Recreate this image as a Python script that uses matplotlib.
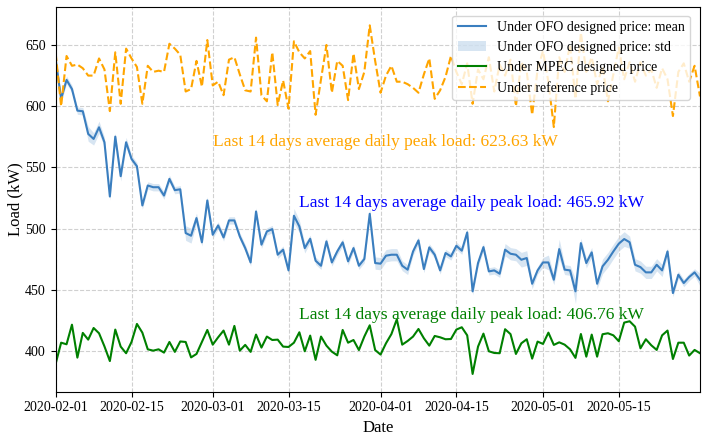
import numpy as np
import pandas as pd
import matplotlib
matplotlib.use("Agg")
import matplotlib.pyplot as plt
import matplotlib.dates as mdates

plt.rcParams['font.family'] = ['Liberation Serif', 'DejaVu Serif']

# daily dates, 2020-02-01 .. 2020-05-30
dates = pd.date_range("2020-02-01", "2020-05-30", freq="D")

# OFO designed price: mean daily peak load (kW)
ofo_mean = [
    637.8, 606.0, 621.5, 614.0, 596.4, 595.9, 577.4, 573.3, 582.8, 570.6,
    526.3, 575.2, 542.9, 570.6, 557.0, 551.0, 519.0, 535.3, 533.9, 533.9,
    527.1, 540.7, 531.5, 532.2, 496.5, 494.3, 508.7, 488.9, 523.1, 495.1,
    502.7, 492.9, 506.8, 506.8, 493.7, 484.2, 472.5, 514.1, 487.0, 497.8,
    499.7, 478.8, 482.9, 466.0, 510.6, 501.9, 484.2, 491.8, 473.9, 469.8,
    489.7, 472.5, 481.5, 488.9, 473.4, 484.2, 469.8, 475.3, 512.2, 472.0,
    471.5, 478.0, 478.8, 478.8, 469.8, 466.6, 481.5, 490.5, 467.1, 484.8,
    478.8, 466.0, 480.2, 477.4, 486.1, 482.1, 497.0, 448.9, 472.0, 485.0,
    465.2, 466.0, 463.3, 482.9, 479.6, 478.8, 474.7, 476.1, 455.1, 466.0,
    472.5, 472.5, 458.4, 483.4, 466.6, 466.0, 448.9, 488.3, 472.0, 480.7,
    455.1, 469.3, 474.7, 481.5, 487.8, 491.6, 489.0, 470.6, 468.7, 464.4,
    464.4, 470.6, 466.0, 481.5, 447.5, 462.5, 455.7, 460.6, 464.4, 458.4,
]

# OFO designed price: std across runs (kW)
ofo_std = [
    4, 3, 3, 3, 3, 3, 6, 5, 5, 4,
    3, 3, 4, 4, 3, 3, 3, 3, 3, 3,
    3, 3, 3, 3, 6, 6, 4, 3, 3, 3,
    3, 3, 3, 3, 3, 3, 3, 3, 3, 3,
    3, 3, 3, 3, 6, 5, 4, 3, 3, 3,
    3, 3, 3, 3, 3, 3, 3, 3, 4, 5,
    5, 5, 5, 5, 4, 4, 3, 3, 3, 3,
    3, 3, 3, 3, 3, 3, 3, 3, 3, 3,
    3, 3, 3, 5, 5, 5, 6, 6, 4, 3,
    4, 6, 4, 8, 4, 4, 10, 4, 4, 4,
    4, 6, 6, 6, 6, 6, 5, 5, 5, 5,
    5, 5, 5, 3, 3, 3, 3, 3, 3, 5,
]

# MPEC designed price
mpec = [
    390.0, 407.0, 405.7, 421.7, 394.8, 415.0, 409.5, 419.0, 414.7, 404.0,
    392.0, 417.7, 403.8, 398.4, 407.6, 422.3, 415.2, 401.6, 400.5, 401.6,
    398.9, 407.6, 399.5, 408.0, 407.6, 395.0, 397.8, 407.6, 417.4, 405.4,
    411.4, 416.9, 405.4, 420.7, 400.5, 405.2, 399.5, 413.6, 403.0, 412.0,
    409.2, 409.5, 403.8, 403.5, 407.0, 415.5, 400.0, 412.8, 393.0, 412.0,
    404.6, 399.7, 396.7, 417.4, 407.0, 409.2, 401.0, 412.0, 421.2, 401.0,
    397.3, 406.5, 414.0, 426.1, 405.4, 408.4, 412.0, 418.2, 410.6, 404.6,
    412.5, 411.4, 409.8, 410.0, 417.7, 419.6, 413.0, 381.5, 403.8, 414.4,
    400.0, 398.6, 398.4, 418.0, 414.0, 397.8, 406.5, 409.8, 394.0, 407.9,
    406.0, 415.2, 405.2, 407.3, 405.4, 401.6, 394.6, 414.1, 395.6, 413.6,
    395.6, 413.9, 414.7, 413.0, 408.2, 423.4, 424.5, 420.1, 402.4, 409.8,
    404.9, 401.1, 413.0, 416.9, 393.7, 407.0, 407.0, 396.5, 401.1, 398.4,
]

# reference price
reference = [
    643, 600, 641, 633, 634, 631, 625, 625, 639, 630,
    596, 644, 602, 647, 639, 632, 602, 633, 628, 629,
    628, 651, 647, 642, 612, 614, 637, 616, 654, 617,
    620, 609, 638, 640, 626, 613, 612, 656, 609, 604,
    644, 601, 621, 598, 653, 644, 639, 645, 593, 622,
    650, 611, 637, 633, 605, 643, 614, 628, 666, 637,
    611, 625, 633, 620, 620, 618, 615, 611, 626, 639,
    606, 613, 624, 641, 628, 618, 635, 602, 630, 622,
    640, 612, 634, 625, 638, 600, 636, 628, 593, 630,
    645, 620, 583, 640, 628, 650, 606, 660, 628, 640,
    618, 632, 604, 626, 648, 622, 636, 620, 636, 625,
    630, 615, 631, 622, 592, 628, 635, 620, 633, 608,
]

avg_ref = 623.63
avg_ofo = 465.92
avg_mpec = 406.76

c_mean = '#3a7ebf'

fig = plt.figure(figsize=(7.08, 4.36), dpi=100)
ax = fig.add_axes([0.0787, 0.1016, 0.91, 0.8824])

mean = np.array(ofo_mean)
std = np.array(ofo_std)
ax.plot(dates, mean, color=c_mean, lw=1.5, label='Under OFO designed price: mean')
ax.fill_between(dates, mean - std, mean + std, color=c_mean, alpha=0.2, lw=0,
                label='Under OFO designed price: std')
ax.plot(dates, mpec, color='green', lw=1.5, label='Under MPEC designed price')
ax.plot(dates, reference, color='orange', lw=1.5, ls='--', label='Under reference price')

ax.text(pd.Timestamp("2020-03-01"), 571, f'Last 14 days average daily peak load: {avg_ref:.2f} kW',
        color='orange', fontsize=12.6, va='center')
ax.text(pd.Timestamp("2020-03-17"), 521, f'Last 14 days average daily peak load: {avg_ofo:.2f} kW',
        color='blue', fontsize=12.6, va='center')
ax.text(pd.Timestamp("2020-03-17"), 430, f'Last 14 days average daily peak load: {avg_mpec:.2f} kW',
        color='green', fontsize=12.6, va='center')

ax.set_xlim(dates[0], dates[-1])
ax.set_ylim(367, 681)
ax.set_yticks([400, 450, 500, 550, 600, 650])
ticks = pd.to_datetime(["2020-02-01", "2020-02-15", "2020-03-01", "2020-03-15",
                        "2020-04-01", "2020-04-15", "2020-05-01", "2020-05-15"])
ax.set_xticks(ticks)
ax.xaxis.set_major_formatter(mdates.DateFormatter('%Y-%m-%d'))
ax.tick_params(labelsize=10)
ax.grid(True, ls='--', color='#d0d0d0', lw=0.8)
ax.set_xlabel('Date', fontsize=12)
ax.set_ylabel('Load (kW)', fontsize=12, labelpad=1.5)
ax.legend(loc='upper right', fontsize=10, bbox_to_anchor=(0.989, 0.985), borderaxespad=0.2)

fig.savefig('out.png', dpi=100)
